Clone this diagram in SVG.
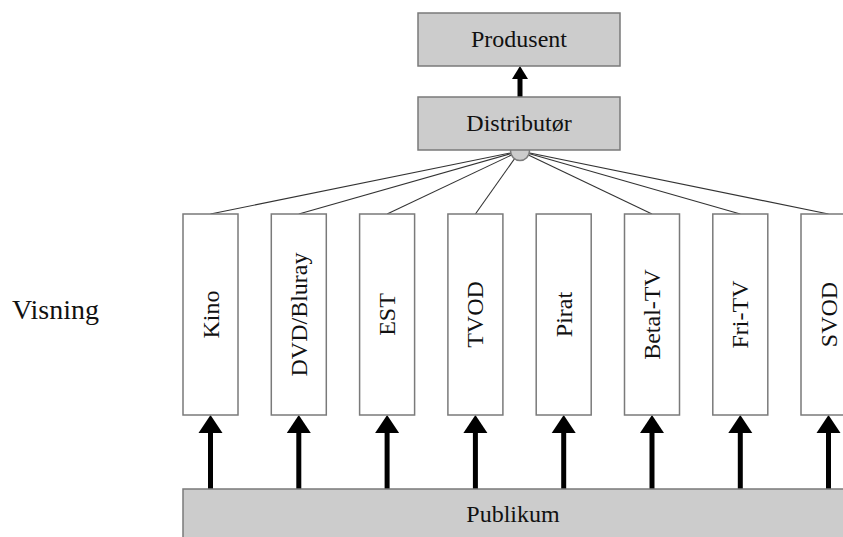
<svg xmlns="http://www.w3.org/2000/svg" width="843" height="537" viewBox="0 0 843 537">
  <style>
    .lbl { font-family: "Liberation Serif", "Times New Roman", serif; font-size: 24px; fill: #111; }
    .big { font-size: 28px; }
    .grey { fill: #cccccc; stroke: #7a7a7a; stroke-width: 1.5; }
    .chan { fill: #ffffff; stroke: #7a7a7a; stroke-width: 1.5; }
    .fan { stroke: #333333; stroke-width: 1.1; fill: none; }
    .up { stroke: #000000; stroke-width: 5; fill: none; }
    .head { fill: #000000; }
  </style>
  <rect width="843" height="537" fill="#ffffff"/>

  <!-- connectors: fan from distributor, arrows up from audience -->
  <g id="connectors">
    <g class="fan">
      <line x1="520" y1="151" x2="210.5" y2="214"/>
      <line x1="520" y1="151" x2="298.8" y2="214"/>
      <line x1="520" y1="151" x2="387.1" y2="214"/>
      <line x1="520" y1="151" x2="475.4" y2="214"/>
      <line x1="520" y1="151" x2="652" y2="214"/>
      <line x1="520" y1="151" x2="740.3" y2="214"/>
      <line x1="520" y1="151" x2="828.5" y2="214"/>
    </g>
    <!-- distributor to producer -->
    <line class="up" x1="520" y1="97" x2="520" y2="78" stroke-width="4"/>
    <polygon class="head" points="520,66 512,79 528,79"/>
    <!-- audience to each channel -->
    <g>
      <line class="up" x1="210.5" y1="489" x2="210.5" y2="432"/>
      <polygon class="head" points="210.5,415 198.5,433 222.5,433"/>
      <line class="up" x1="298.8" y1="489" x2="298.8" y2="432"/>
      <polygon class="head" points="298.8,415 286.8,433 310.8,433"/>
      <line class="up" x1="387.1" y1="489" x2="387.1" y2="432"/>
      <polygon class="head" points="387.1,415 375.1,433 399.1,433"/>
      <line class="up" x1="475.4" y1="489" x2="475.4" y2="432"/>
      <polygon class="head" points="475.4,415 463.4,433 487.4,433"/>
      <line class="up" x1="563.7" y1="489" x2="563.7" y2="432"/>
      <polygon class="head" points="563.7,415 551.7,433 575.7,433"/>
      <line class="up" x1="652" y1="489" x2="652" y2="432"/>
      <polygon class="head" points="652,415 640,433 664,433"/>
      <line class="up" x1="740.3" y1="489" x2="740.3" y2="432"/>
      <polygon class="head" points="740.3,415 728.3,433 752.3,433"/>
      <line class="up" x1="828.5" y1="489" x2="828.5" y2="432"/>
      <polygon class="head" points="828.5,415 816.5,433 840.5,433"/>
    </g>
  </g>

  <g id="hub">
    <circle cx="520" cy="151" r="9.5" class="grey"/>
  </g>

  <g id="produsent">
    <rect x="418" y="13" width="202" height="53" class="grey"/>
    <text x="519" y="47" class="lbl" text-anchor="middle">Produsent</text>
  </g>

  <g id="distributor">
    <rect x="418" y="97" width="202" height="53" class="grey"/>
    <text x="519" y="131" class="lbl" text-anchor="middle">Distributør</text>
  </g>

  <g id="visning">
    <text x="12" y="319" class="lbl big">Visning</text>
  </g>

  <g id="kino">
    <rect x="183" y="214" width="55" height="201" class="chan"/>
    <text class="lbl" text-anchor="middle" transform="translate(218.5 314.5) rotate(-90)">Kino</text>
  </g>
  <g id="dvd">
    <rect x="271.3" y="214" width="55" height="201" class="chan"/>
    <text class="lbl" text-anchor="middle" transform="translate(306.8 314.5) rotate(-90)">DVD/Bluray</text>
  </g>
  <g id="est">
    <rect x="359.6" y="214" width="55" height="201" class="chan"/>
    <text class="lbl" text-anchor="middle" transform="translate(395.1 314.5) rotate(-90)">EST</text>
  </g>
  <g id="tvod">
    <rect x="447.9" y="214" width="55" height="201" class="chan"/>
    <text class="lbl" text-anchor="middle" transform="translate(483.4 314.5) rotate(-90)">TVOD</text>
  </g>
  <g id="pirat">
    <rect x="536.2" y="214" width="55" height="201" class="chan"/>
    <text class="lbl" text-anchor="middle" transform="translate(571.7 314.5) rotate(-90)">Pirat</text>
  </g>
  <g id="betal-tv">
    <rect x="624.5" y="214" width="55" height="201" class="chan"/>
    <text class="lbl" text-anchor="middle" transform="translate(660 314.5) rotate(-90)">Betal-TV</text>
  </g>
  <g id="fri-tv">
    <rect x="712.8" y="214" width="55" height="201" class="chan"/>
    <text class="lbl" text-anchor="middle" transform="translate(748.3 314.5) rotate(-90)">Fri-TV</text>
  </g>
  <g id="svod">
    <rect x="801" y="214" width="55" height="201" class="chan"/>
    <text class="lbl" text-anchor="middle" transform="translate(836.5 314.5) rotate(-90)">SVOD</text>
  </g>

  <g id="publikum">
    <rect x="183" y="489" width="680" height="60" class="grey"/>
    <text x="513" y="522" class="lbl" text-anchor="middle">Publikum</text>
  </g>
</svg>
